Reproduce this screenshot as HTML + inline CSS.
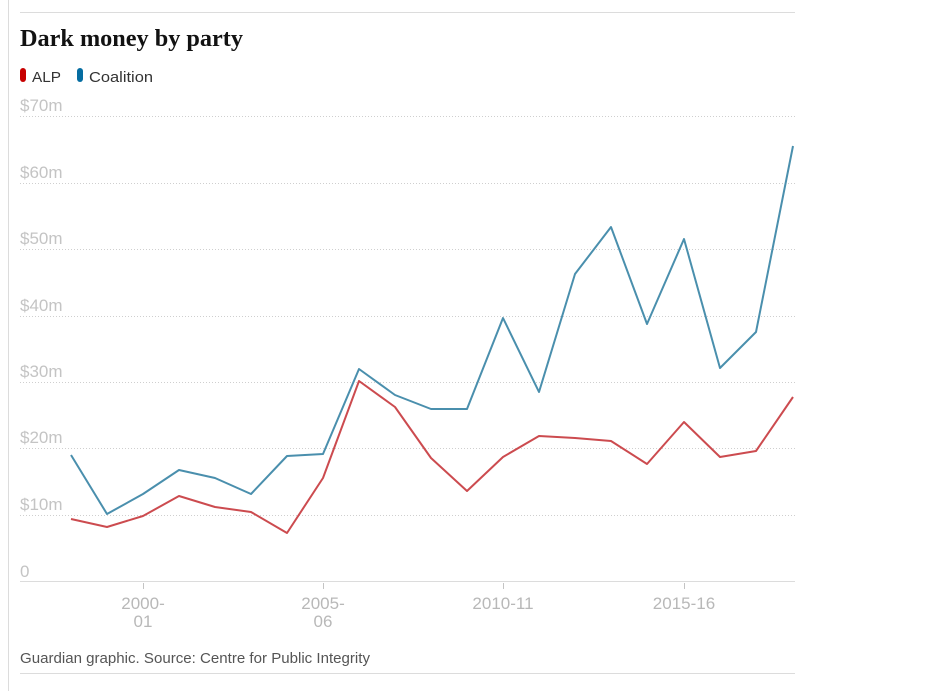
<!DOCTYPE html>
<html><head><meta charset="utf-8"><style>
body{margin:0;background:#fff;width:947px;height:691px;overflow:hidden}
svg{display:block}
</style></head><body>
<svg width="947" height="691" xmlns="http://www.w3.org/2000/svg" font-family="Liberation Sans, sans-serif">
<line x1="8.5" y1="0" x2="8.5" y2="691" stroke="#dcdcdc"/>
<line x1="20" y1="12.5" x2="795" y2="12.5" stroke="#dcdcdc"/>
<text x="20" y="46" font-family="Liberation Serif, serif" font-weight="bold" font-size="24" fill="#121212" textLength="223" lengthAdjust="spacingAndGlyphs">Dark money by party</text>
<rect x="20" y="68" width="6" height="14" rx="3" fill="#c70000"/>
<text x="32" y="82" font-size="15" fill="#333" textLength="29" lengthAdjust="spacingAndGlyphs">ALP</text>
<rect x="77" y="68" width="6" height="14" rx="3" fill="#056da1"/>
<text x="89" y="82" font-size="15" fill="#333" textLength="64" lengthAdjust="spacingAndGlyphs">Coalition</text>
<g stroke="#cfcfcf" stroke-dasharray="1,2">
<line x1="20" y1="116.5" x2="795" y2="116.5"/>
<line x1="20" y1="183.5" x2="795" y2="183.5"/>
<line x1="20" y1="249.5" x2="795" y2="249.5"/>
<line x1="20" y1="316.5" x2="795" y2="316.5"/>
<line x1="20" y1="382.5" x2="795" y2="382.5"/>
<line x1="20" y1="448.5" x2="795" y2="448.5"/>
<line x1="20" y1="515.5" x2="795" y2="515.5"/>
</g>
<line x1="20" y1="581.5" x2="795" y2="581.5" stroke="#dcdcdc"/>
<g font-size="17" fill="#c4c4c4">
<text x="20" y="111">$70m</text>
<text x="20" y="178">$60m</text>
<text x="20" y="244">$50m</text>
<text x="20" y="311">$40m</text>
<text x="20" y="377">$30m</text>
<text x="20" y="443">$20m</text>
<text x="20" y="510">$10m</text>
<text x="20" y="577">0</text>
</g>
<g stroke="#c4c4c4"><line x1="143.5" y1="583" x2="143.5" y2="589"/><line x1="323.5" y1="583" x2="323.5" y2="589"/><line x1="503.5" y1="583" x2="503.5" y2="589"/><line x1="684.5" y1="583" x2="684.5" y2="589"/></g>
<g font-size="17" fill="#b8b8b8" text-anchor="middle">
<text x="143" y="609">2000-</text><text x="143" y="627">01</text>
<text x="323" y="609">2005-</text><text x="323" y="627">06</text>
<text x="503" y="609">2010-11</text>
<text x="684" y="609">2015-16</text>
</g>
<polyline fill="none" stroke="#4a8fad" stroke-width="2" stroke-linejoin="round" points="71,455 107,514 143,494 179,470 215,478 251,494 287,456 323,454 359,369 395,395 431,409 467,409 503,318 539,392 575,274 611,227 647,324 684,239 720,368 756,332 793,146"/>
<polyline fill="none" stroke="#cc4b4f" stroke-width="2" stroke-linejoin="round" points="71,519 107,527 143,516 179,496 215,507 251,512 287,533 323,478 359,381 395,407 431,458 467,491 503,457 539,436 575,438 611,441 647,464 684,422 720,457 756,451 793,397"/>
<text x="20" y="663" font-size="14.5" fill="#555" textLength="350" lengthAdjust="spacingAndGlyphs">Guardian graphic. Source: Centre for Public Integrity</text>
<line x1="20" y1="673.5" x2="795" y2="673.5" stroke="#dcdcdc"/>
</svg>
</body></html>
